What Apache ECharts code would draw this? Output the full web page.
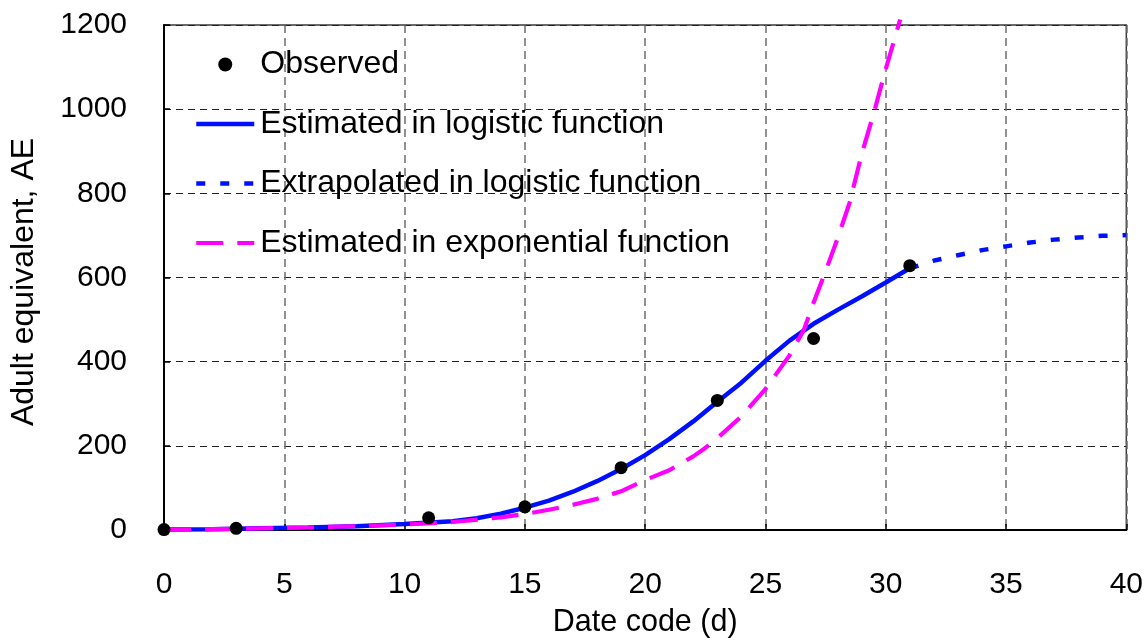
<!DOCTYPE html>
<html>
<head>
<meta charset="utf-8">
<script src="https://cdn.jsdelivr.net/npm/echarts@6/dist/echarts.min.js"></script>
<style>
html,body{margin:0;padding:0;background:#fff;}
#chart{width:1146px;height:643px;}
</style>
</head>
<body>
<div id="chart"></div>
<script>
// ---- data ----
const observedX = [0, 3, 11, 15, 19, 23, 27, 31];
const observedY = [1, 4, 29, 55, 148, 308, 455, 628];

const logisticX = [0, 2, 4, 6, 8, 10, 12, 13, 14, 15, 16, 17, 18, 19, 20, 21, 22, 23, 24, 25, 26, 27, 28, 29, 30, 31];
const logisticY = [1, 2, 4, 6, 9, 14, 21, 28, 39, 53, 70, 91, 116, 145, 178, 216, 258, 305, 350, 402, 450, 490, 523, 555, 588, 622];

const extrapX = [31, 32, 33, 34, 35, 36, 37, 38, 39, 40];
const extrapY = [622, 640, 653, 665, 674, 683, 690, 695, 699, 701];

const expX = [0, 2, 4, 6, 8, 10, 12, 14, 15, 16, 17, 18, 19, 20, 21, 22, 22.5, 23, 24, 25, 26, 26.6, 27, 27.5, 28, 28.5, 29, 29.5, 30, 30.6];
const expY = [0, 2, 4, 6, 9, 13, 19, 30, 38, 48, 60, 74, 92, 119, 142, 175, 195, 218, 270, 335, 415, 476, 540, 615, 693, 778, 893, 990, 1095, 1213];

const xTicks = {min: 0, max: 40, interval: 5};
const yTicks = {min: 0, max: 1200, interval: 200};

const names = ['Observed', 'Estimated in logistic function', 'Extrapolated in logistic function', 'Estimated in exponential function'];

const zip = (xs, ys) => xs.map((x, i) => [x, ys[i]]);
const FONT = '"Liberation Sans", Arial, sans-serif';
const hiddenSymbol = {color: 'rgba(0,0,0,0)', borderColor: 'rgba(0,0,0,0)', borderWidth: 0};

const chart = echarts.init(document.getElementById('chart'), null, {renderer: 'canvas'});
chart.setOption({
  animation: false,
  backgroundColor: '#ffffff',
  textStyle: {fontFamily: FONT, color: '#000'},
  grid: {left: 164, right: 19, top: 25, bottom: 113, show: true, borderColor: '#3a3a3a', borderWidth: 1.5, backgroundColor: 'transparent'},
  legend: {
    data: [
      {name: names[0]},
      {name: names[1], itemStyle: hiddenSymbol},
      {name: names[2], itemStyle: hiddenSymbol},
      {name: names[3], itemStyle: hiddenSymbol}
    ],
    orient: 'vertical',
    left: 194,
    top: 48.5,
    padding: 0,
    itemWidth: 58,
    itemHeight: 14,
    itemGap: 27.5,
    lineStyle: {width: 'inherit', type: 'inherit'},
    textStyle: {fontFamily: FONT, fontSize: 32, color: '#000', padding: [0, 0, 0, 1]},
    selectedMode: false
  },
  xAxis: {
    type: 'value',
    min: xTicks.min, max: xTicks.max, interval: xTicks.interval,
    name: 'Date code (d)',
    nameLocation: 'middle',
    nameGap: 77,
    nameTextStyle: {fontFamily: FONT, fontSize: 30.5, color: '#000'},
    axisLine: {show: true, onZero: false, lineStyle: {color: '#000', width: 2}},
    axisTick: {show: true, inside: true, length: 6, lineStyle: {color: '#000', width: 1.5}},
    axisLabel: {fontFamily: FONT, fontSize: 30, color: '#000', margin: 40},
    splitLine: {show: true, lineStyle: {color: '#6e6e6e', width: 1.5, type: [8, 5]}}
  },
  yAxis: {
    type: 'value',
    min: yTicks.min, max: yTicks.max, interval: yTicks.interval,
    name: 'Adult equivalent, AE',
    nameLocation: 'middle',
    nameGap: 124,
    nameRotate: 90,
    nameTextStyle: {fontFamily: FONT, fontSize: 32, color: '#000', padding: [0, 9, 0, 0]},
    axisLine: {show: true, onZero: false, lineStyle: {color: '#000', width: 2}},
    axisTick: {show: true, inside: true, length: 6, lineStyle: {color: '#000', width: 1.5}},
    axisLabel: {fontFamily: FONT, fontSize: 30, color: '#000', margin: 37, formatter: v => String(v)},
    splitLine: {show: true, lineStyle: {color: '#222', width: 1.2, type: [7, 5]}}
  },
  series: [
    {
      name: names[1], type: 'line', data: zip(logisticX, logisticY),
      symbol: 'none', smooth: false, z: 3,
      lineStyle: {color: '#0010ff', width: 4.5, type: 'solid'},
      itemStyle: {color: '#0010ff'}
    },
    {
      name: names[2], type: 'line', data: zip(extrapX, extrapY),
      symbol: 'none', z: 3,
      lineStyle: {color: '#0010ff', width: 4.5, type: [9, 15]},
      itemStyle: {color: '#0010ff'}
    },
    {
      name: names[3], type: 'line', data: zip(expX, expY),
      symbol: 'none', z: 4, clip: false,
      lineStyle: {color: '#ff00ff', width: 4.2, type: [27, 14]},
      itemStyle: {color: '#ff00ff'}
    },
    {
      name: names[0], type: 'scatter', data: zip(observedX, observedY),
      symbol: 'circle', symbolSize: 13, z: 6, clip: false,
      itemStyle: {color: '#000', opacity: 1}
    }
  ]
});
</script>
</body>
</html>
